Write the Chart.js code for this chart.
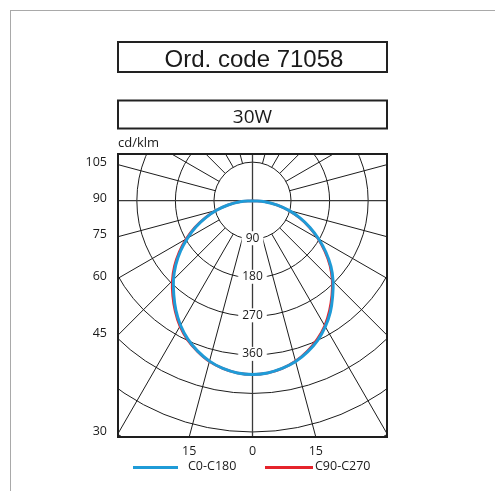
<!DOCTYPE html>
<html><head><meta charset="utf-8">
<script src="https://cdn.jsdelivr.net/npm/chart.js@4/dist/chart.umd.min.js"></script>
<style>
html,body{margin:0;padding:0;background:#fff;}
#wrap{position:relative;width:495px;height:491px;overflow:hidden;background:#fff;}
#frame{position:absolute;left:10px;top:10px;width:700px;height:700px;border-top:1.5px solid #a9a9a9;border-left:1.5px solid #a9a9a9;}
canvas{position:absolute;left:0;top:0;}
</style></head><body>
<div id="wrap"><div id="frame"></div><canvas id="c" width="495" height="491"></canvas></div>
<script>
// ---- data (cd/klm) ----
const angles = [0,5,10,15,20,25,30,35,40,45,50,55,60,65,70,75,80,85,90];
const c0   = [406,404,398,389,376,360,340,317,291,266,239,209,178,148,118,88,59,29,0];
const c180 = [406,404,398,388,374,357,336,312,286,261,234,205,175,146,116,87,58,29,0];
const c90  = [406,404,398,388,374,357,337,313,288,263,236,206,176,146,116,87,58,29,0];
const c270 = [406,404,398,389,375,359,339,315,290,265,238,209,179,149,118,88,58,29,0];
const seriesNames = ['C0-C180','C90-C270'];
const seriesColors = ['#1f9bd7','#e5232b'];
const ringValues = [90,180,270,360,450,540,630];
const ringLabels = [90,180,270,360];
const radialAngles = [15,30,45,60,75,105,120,135,150,165];
const leftTickAngles = [105,90,75,60,45,30];
const bottomTickAngles = [-15,0,15];
const titleText = 'Ord. code 71058';
const subtitleText = '30W';
const unitText = 'cd/klm';

const rad = d => d*Math.PI/180;
function curve(right, left){
  const pts = [];
  for(let i=angles.length-1;i>=0;i--){
    const t=rad(angles[i]);
    pts.push({x: right[i]*Math.sin(t), y: -right[i]*Math.cos(t)});
  }
  for(let i=1;i<angles.length;i++){
    const t=rad(angles[i]);
    pts.push({x: -left[i]*Math.sin(t), y: -left[i]*Math.cos(t)});
  }
  return pts;
}

const XMIN=-314, XMAX=314, YMIN=-552, YMAX=109;

const polarGrid = {
  id:'polarGrid',
  beforeDatasetsDraw(chart){
    const {ctx, chartArea:a, scales:{x:xs, y:ys}} = chart;
    const cx = xs.getPixelForValue(0), cy = ys.getPixelForValue(0);
    const k = xs.getPixelForValue(1) - cx;
    ctx.save();
    ctx.beginPath(); ctx.rect(a.left,a.top,a.right-a.left,a.bottom-a.top); ctx.clip();
    ctx.strokeStyle='#1c1c1c'; ctx.lineWidth=1;
    ringValues.forEach(r=>{ ctx.beginPath(); ctx.arc(cx,cy,r*k,0,Math.PI*2); ctx.stroke(); });
    const r0 = ringValues[0]*k, R = 2000;
    radialAngles.forEach(d=>{
      const t=rad(d);
      [-1,1].forEach(s=>{
        ctx.beginPath();
        ctx.moveTo(cx+s*r0*Math.sin(t), cy+r0*Math.cos(t));
        ctx.lineTo(cx+s*R*Math.sin(t), cy+R*Math.cos(t));
        ctx.stroke();
      });
    });
    ctx.strokeStyle='#3a3a3a'; ctx.lineWidth=1.3;
    ctx.beginPath(); ctx.moveTo(a.left,cy); ctx.lineTo(a.right,cy); ctx.stroke();
    ctx.beginPath(); ctx.moveTo(cx,a.top); ctx.lineTo(cx,a.bottom); ctx.stroke();
    // ring labels
    ctx.font='12px "Open Sans"'; ctx.textAlign='center'; ctx.textBaseline='middle';
    ringLabels.forEach(v=>{
      const y = cy + v*k - 1;
      const w = ctx.measureText(String(v)).width + 8;
      ctx.fillStyle='#fff'; ctx.fillRect(cx-w/2, y-7, w, 14);
      ctx.fillStyle='#1a1a1a'; ctx.fillText(String(v), cx, y);
    });
    ctx.restore();
  },
  afterDatasetsDraw(chart){
    const {ctx, chartArea:a, scales:{x:xs, y:ys}} = chart;
    ctx.save();
    ctx.strokeStyle='#1e1e1e'; ctx.lineWidth=2;
    ctx.strokeRect(a.left,a.top,a.right-a.left,a.bottom-a.top);
    // left angle ticks
    ctx.fillStyle='#1a1a1a';
    ctx.font='12.5px "Open Sans"'; ctx.textAlign='right'; ctx.textBaseline='middle';
    leftTickAngles.forEach(d=>{
      const yv = -(-XMIN)/Math.tan(rad(d));
      ctx.fillText(String(d), a.left-11, ys.getPixelForValue(yv)-2);
    });
    ctx.textAlign='center';
    bottomTickAngles.forEach(d=>{
      const xv = (-YMIN)*Math.tan(rad(d));
      ctx.fillText(String(Math.abs(d)), xs.getPixelForValue(xv), a.bottom+14);
    });
    // unit
    ctx.font='13px "Open Sans"'; ctx.textAlign='left'; ctx.textBaseline='alphabetic';
    ctx.fillText(unitText, a.left, 146.5);
    // title boxes
    ctx.strokeStyle='#222'; ctx.lineWidth=2;
    ctx.strokeRect(a.left, 42, a.right-a.left, 30);
    ctx.strokeRect(a.left, 100.5, a.right-a.left, 28);
    ctx.font='24px "Liberation Sans", Arial, sans-serif'; ctx.textAlign='center';
    ctx.fillText(titleText, 254, 66.5);
    ctx.font='19px "Open Sans"';
    ctx.fillText(subtitleText, 252.5, 123.3);
    // legend
    const leg = [{x1:133,x2:178,tx:188},{x1:265,x2:313,tx:315}];
    ctx.font='12.5px "Open Sans"'; ctx.textAlign='left'; ctx.textBaseline='middle';
    chart.data.datasets.forEach((ds,i)=>{
      const L=leg[i];
      ctx.strokeStyle=ds.borderColor; ctx.lineWidth=3;
      ctx.beginPath(); ctx.moveTo(L.x1,467.5); ctx.lineTo(L.x2,467.5); ctx.stroke();
      ctx.fillStyle='#1a1a1a'; ctx.fillText(ds.label, L.tx, 466);
    });
    ctx.restore();
  }
};

new Chart(document.getElementById('c'), {
  type:'scatter',
  data:{ datasets:[
    {label:seriesNames[0], data:curve(c0,c180), showLine:true, borderColor:seriesColors[0], borderWidth:3, pointRadius:0, tension:0.4, fill:false},
    {label:seriesNames[1], data:curve(c90,c270), showLine:true, borderColor:seriesColors[1], borderWidth:2.5, pointRadius:0, tension:0.4, fill:false}
  ]},
  options:{
    responsive:false, animation:false, devicePixelRatio:1,
    layout:{padding:{left:118, right:108, top:154, bottom:54}},
    scales:{
      x:{type:'linear', min:XMIN, max:XMAX, display:false},
      y:{type:'linear', min:YMIN, max:YMAX, display:false}
    },
    plugins:{legend:{display:false}, tooltip:{enabled:false}, title:{display:false}}
  },
  plugins:[polarGrid]
});
</script>
</body></html>
